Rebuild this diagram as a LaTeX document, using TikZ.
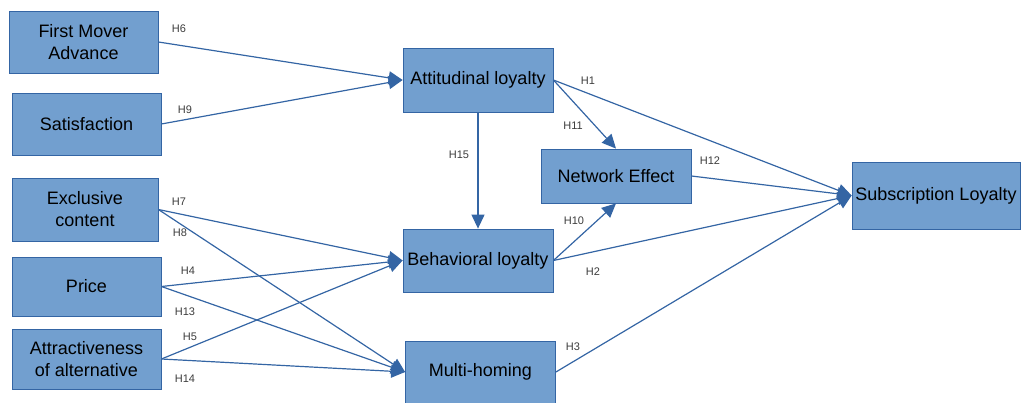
\documentclass[tikz,border=0pt]{standalone}
\usepackage{fontspec}
\setmainfont{Liberation Sans}
\usetikzlibrary{arrows.meta}
\definecolor{boxfill}{HTML}{729FCF}
\definecolor{boxline}{HTML}{3465A4}
\definecolor{lblcol}{HTML}{3C3C3C}
\tikzset{
  box/.style={draw=boxline, fill=boxfill, line width=0.8pt, inner sep=0pt,
    align=center, font=\fontsize{18}{22}\selectfont, text=black},
  conn/.style={draw=boxline, line width=1.2pt,
    -{Triangle[length=14pt,width=13pt]}},
  hlbl/.style={font=\fontsize{11}{12}\selectfont, text=lblcol, inner sep=0pt}
}
\begin{document}
\begin{tikzpicture}[x=1pt,y=-1pt]
\useasboundingbox (0,0) rectangle (1022,403);
\begin{scope}
\clip (0,0) rectangle (1022,403);
\node[box, minimum width=149pt, minimum height=62pt] (fm) at (83.5,42) {First Mover\\Advance};
\node[box, minimum width=149pt, minimum height=62pt] (sat) at (86.5,124) {Satisfaction};
\node[box, minimum width=146pt, minimum height=63pt] (ex) at (85,209.5) {Exclusive\\content};
\node[box, minimum width=149pt, minimum height=59pt] (pr) at (86.5,286.5) {Price};
\node[box, minimum width=149pt, minimum height=60pt] (alt) at (86.5,359) {Attractiveness\\of alternative};
\node[box, minimum width=150pt, minimum height=64pt] (att) at (478,80) {Attitudinal loyalty};
\node[box, minimum width=150pt, minimum height=63pt] (beh) at (478,260.5) {Behavioral loyalty};
\node[box, minimum width=150pt, minimum height=54pt] (ne) at (616,176) {Network Effect};
\node[box, minimum width=168pt, minimum height=67pt] (sub) at (936,195.5) {Subscription Loyalty};
\node[box, minimum width=150pt, minimum height=62pt] (mh) at (480.5,372) {Multi-homing};
\end{scope}

\draw[conn] (fm.east) -- (att.west);
\draw[conn] (sat.east) -- (att.west);
\draw[conn] (ex.east) -- (beh.west);
\draw[conn] (ex.east) -- (mh.west);
\draw[conn] (pr.east) -- (beh.west);
\draw[conn] (pr.east) -- (mh.west);
\draw[conn] (alt.east) -- (beh.west);
\draw[conn] (alt.east) -- (mh.west);
\draw[conn] (att.south) -- (beh.north);
\draw[conn] (att.east) -- (ne.north);
\draw[conn] (att.east) -- (sub.west);
\draw[conn] (ne.east) -- (sub.west);
\draw[conn] (beh.east) -- (ne.south);
\draw[conn] (beh.east) -- (sub.west);
\draw[conn] (mh.east) -- (sub.west);

\node[hlbl] (h6) at (179,29) {H6};
\node[hlbl] (h9) at (185,110) {H9};
\node[hlbl] (h7) at (179,202) {H7};
\node[hlbl] (h8) at (180,233) {H8};
\node[hlbl] (h4) at (188,271) {H4};
\node[hlbl] (h13) at (185,312) {H13};
\node[hlbl] (h5) at (190,337) {H5};
\node[hlbl] (h14) at (185,379) {H14};
\node[hlbl] (h15) at (459,155) {H15};
\node[hlbl] (h11) at (573,126) {H11};
\node[hlbl] (h1) at (588,81) {H1};
\node[hlbl] (h12) at (710,161) {H12};
\node[hlbl] (h10) at (574,221) {H10};
\node[hlbl] (h2) at (593,272) {H2};
\node[hlbl] (h3) at (573,347) {H3};
\end{tikzpicture}
\end{document}
